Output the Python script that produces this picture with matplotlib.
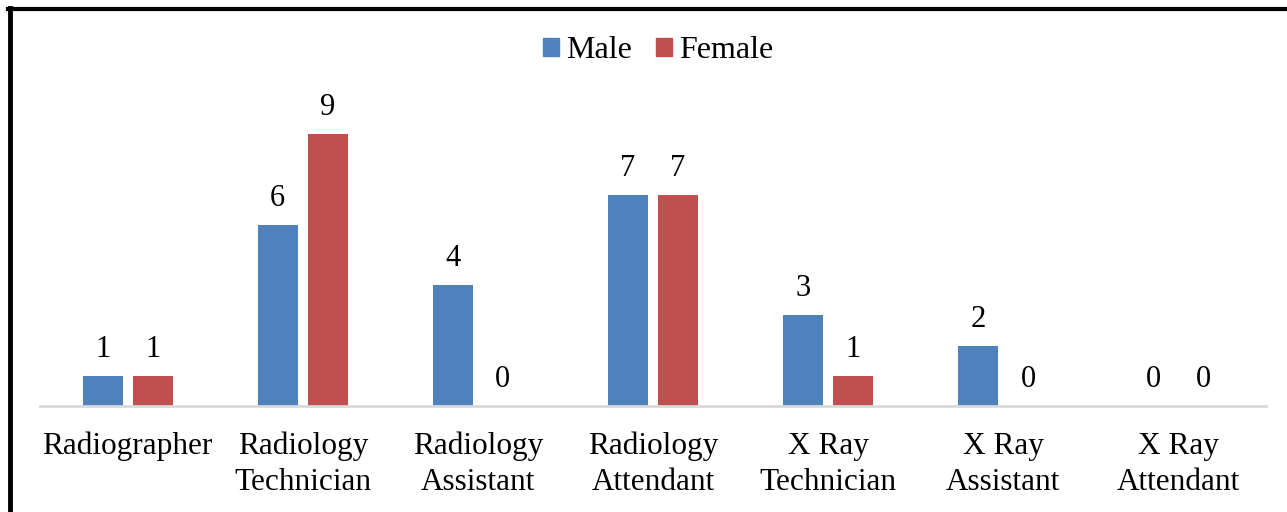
import matplotlib
matplotlib.use("Agg")
import matplotlib.pyplot as plt
from matplotlib.lines import Line2D
from matplotlib.patches import Patch
import numpy as np

categories = ["Radiographer", "Radiology\nTechnician", "Radiology\nAssistant",
              "Radiology\nAttendant", "X Ray\nTechnician", "X Ray\nAssistant",
              "X Ray\nAttendant"]
male = [1, 6, 4, 7, 3, 2, 0]
female = [1, 9, 0, 7, 1, 0, 0]
series_names = ["Male", "Female"]
colors = ["#4F81BD", "#C0504D"]

plt.rcParams['font.family'] = ['Liberation Serif', 'DejaVu Serif']

W, H = 1287, 512
fig = plt.figure(figsize=(W/100, H/100), dpi=100)
ax = fig.add_axes([40/W, (H-406)/H, (1266-40)/W, 302/H])

x = np.arange(len(categories))
bw = 40/175.1
off = 25/175.1
b1 = ax.bar(x - off, male, bw, color=colors[0], label=series_names[0])
b2 = ax.bar(x + off, female, bw, color=colors[1], label=series_names[1])

for bars, vals in ((b1, male), (b2, female)):
    for rect, v in zip(bars, vals):
        ax.annotate(str(v), (rect.get_x() + rect.get_width()/2, v),
                    xytext=(0, 12), textcoords='offset pixels',
                    ha='center', va='bottom', fontsize=22)

ax.set_xlim(-0.5, len(categories) - 0.5)
ax.set_ylim(0, 10)
ax.set_xticks(x)
ax.set_xticklabels(categories, fontsize=22.5, linespacing=1.33)
ax.tick_params(axis='x', length=0, pad=18.5)
ax.set_yticks([])
for s in ['top', 'right', 'left']:
    ax.spines[s].set_visible(False)
ax.spines['bottom'].set_color('#d9d9d9')
ax.spines['bottom'].set_linewidth(2)

handles = [Patch(color=c, label=n) for c, n in zip(colors, series_names)]
fig.legend(handles=handles, loc='center', bbox_to_anchor=(658/W, (H-51)/H),
           ncol=2, frameon=False, fontsize=23, handlelength=0.5,
           handleheight=0.5, handletextpad=0.22, columnspacing=0.75)

fig.add_artist(Line2D([10/W, 10/W], [0, (H-8)/H], transform=fig.transFigure,
                      color='black', linewidth=3.5))
fig.add_artist(Line2D([8/W, 1], [(H-9)/H, (H-9)/H], transform=fig.transFigure,
                      color='black', linewidth=3))

fig.savefig("out.png", dpi=100)
